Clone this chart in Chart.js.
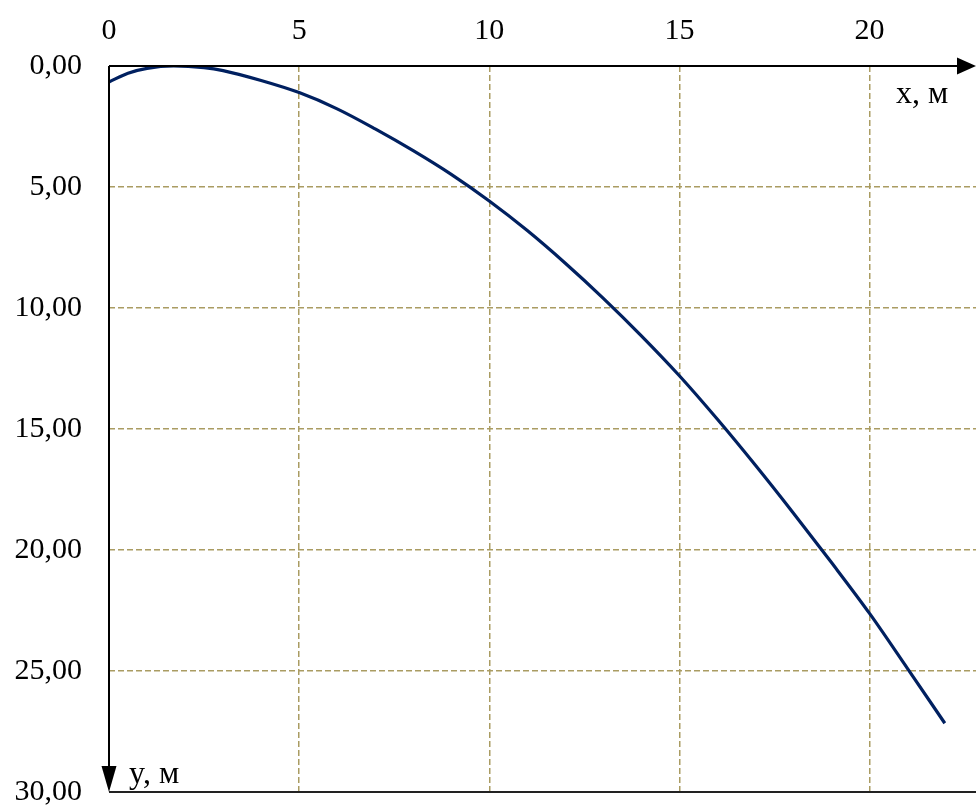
<!DOCTYPE html>
<html>
<head>
<meta charset="utf-8">
<script src="https://cdn.jsdelivr.net/npm/chart.js@4/dist/chart.umd.min.js"></script>
<style>
  html, body { margin: 0; padding: 0; background: #ffffff; }
  #wrap { width: 976px; height: 805px; }
</style>
</head>
<body>
<div id="wrap"><canvas id="c" width="976" height="805"></canvas></div>
<script>
// Trajectory samples: horizontal distance x (m) and drop y (m)
const xValues = [0, 0.5, 1.0, 1.7, 2.5, 3, 4, 5, 6, 7, 8, 9, 10, 11, 12, 13, 14, 15, 16, 17, 18, 19, 20, 21, 21.98];
const yValues = [0.66, 0.3, 0.1, 0.0, 0.07, 0.19, 0.6, 1.1, 1.77, 2.6, 3.5, 4.48, 5.58, 6.8, 8.15, 9.6, 11.15, 12.8, 14.6, 16.5, 18.48, 20.52, 22.62, 24.9, 27.16];

// Axis tick positions
const xTicks = [0, 5, 10, 15, 20];
const yTicks = [0, 5, 10, 15, 20, 25, 30];

const xAxisName = 'x, м';
const yAxisName = 'y, м';

const FONT = "'Liberation Serif', 'Times New Roman', serif";
const GRID = '#aa9c62';
const CURVE = '#002060';

const points = xValues.map((x, i) => ({ x: x, y: yValues[i] }));

// Axes with arrows, the bottom frame line and the axis names
const axesPlugin = {
  id: 'arrowAxes',
  afterDraw(chart) {
    const ctx = chart.ctx;
    const xs = chart.scales.x, ys = chart.scales.y;
    const x0 = xs.getPixelForValue(0);
    const y0 = ys.getPixelForValue(0);
    const yEnd = ys.getPixelForValue(30);
    const right = chart.width;
    ctx.save();
    ctx.fillStyle = '#000';
    ctx.lineWidth = 2;
    // bottom frame line
    ctx.strokeStyle = '#222';
    ctx.beginPath();
    ctx.moveTo(x0, yEnd);
    ctx.lineTo(right, yEnd);
    ctx.stroke();
    ctx.strokeStyle = '#000';
    // horizontal axis with arrow
    ctx.beginPath();
    ctx.moveTo(x0, y0);
    ctx.lineTo(right - 18, y0);
    ctx.stroke();
    ctx.beginPath();
    ctx.moveTo(right, y0);
    ctx.lineTo(right - 19, y0 - 8.5);
    ctx.lineTo(right - 19, y0 + 8.5);
    ctx.closePath();
    ctx.fill();
    // vertical axis with arrow
    ctx.beginPath();
    ctx.moveTo(x0, y0);
    ctx.lineTo(x0, yEnd - 24);
    ctx.stroke();
    ctx.beginPath();
    ctx.moveTo(x0, yEnd);
    ctx.lineTo(x0 - 7.5, yEnd - 26);
    ctx.lineTo(x0 + 7.5, yEnd - 26);
    ctx.closePath();
    ctx.fill();
    // axis names
    ctx.font = '32px ' + FONT;
    ctx.textAlign = 'left';
    ctx.textBaseline = 'alphabetic';
    ctx.fillText(xAxisName, right - 80, y0 + 37);
    ctx.fillText(yAxisName, x0 + 20, yEnd - 9);
    ctx.restore();
  }
};

new Chart(document.getElementById('c'), {
  type: 'scatter',
  data: {
    datasets: [{
      data: points,
      showLine: true,
      borderColor: CURVE,
      borderWidth: 3.2,
      pointRadius: 0,
      pointHoverRadius: 0,
      cubicInterpolationMode: 'monotone',
      fill: false
    }]
  },
  options: {
    responsive: false,
    animation: false,
    devicePixelRatio: 1,
    layout: { padding: { top: 0, left: 0, right: 0, bottom: 13 } },
    plugins: {
      legend: { display: false },
      tooltip: { enabled: false }
    },
    scales: {
      x: {
        type: 'linear',
        position: 'top',
        min: 0,
        max: 22.8,
        afterBuildTicks(scale) { scale.ticks = xTicks.map(v => ({ value: v })); },
        afterFit(scale) { scale.height = 66; scale.paddingLeft = 0; scale.paddingRight = 0; },
        grid: {
          drawTicks: false,
          lineWidth: 1.5,
          color: c => (c.tick && c.tick.value === 0) ? 'rgba(0,0,0,0)' : GRID
        },
        border: { display: false, dash: [6, 3] },
        ticks: {
          padding: 17,
          color: '#000',
          font: { family: FONT, size: 30 },
          maxRotation: 0,
          callback: v => String(v)
        }
      },
      y: {
        type: 'linear',
        position: 'left',
        reverse: true,
        min: 0,
        max: 30,
        afterBuildTicks(scale) { scale.ticks = yTicks.map(v => ({ value: v })); },
        afterFit(scale) { scale.width = 109; scale.paddingTop = 0; scale.paddingBottom = 0; },
        grid: {
          drawTicks: false,
          lineWidth: 1.5,
          color: c => (c.tick && (c.tick.value === 0 || c.tick.value === 30)) ? 'rgba(0,0,0,0)' : GRID
        },
        border: { display: false, dash: [6, 3] },
        ticks: {
          padding: 27,
          color: '#000',
          font: { family: FONT, size: 30 },
          callback: v => v.toFixed(2).replace('.', ',')
        }
      }
    }
  },
  plugins: [axesPlugin]
});
</script>
</body>
</html>
